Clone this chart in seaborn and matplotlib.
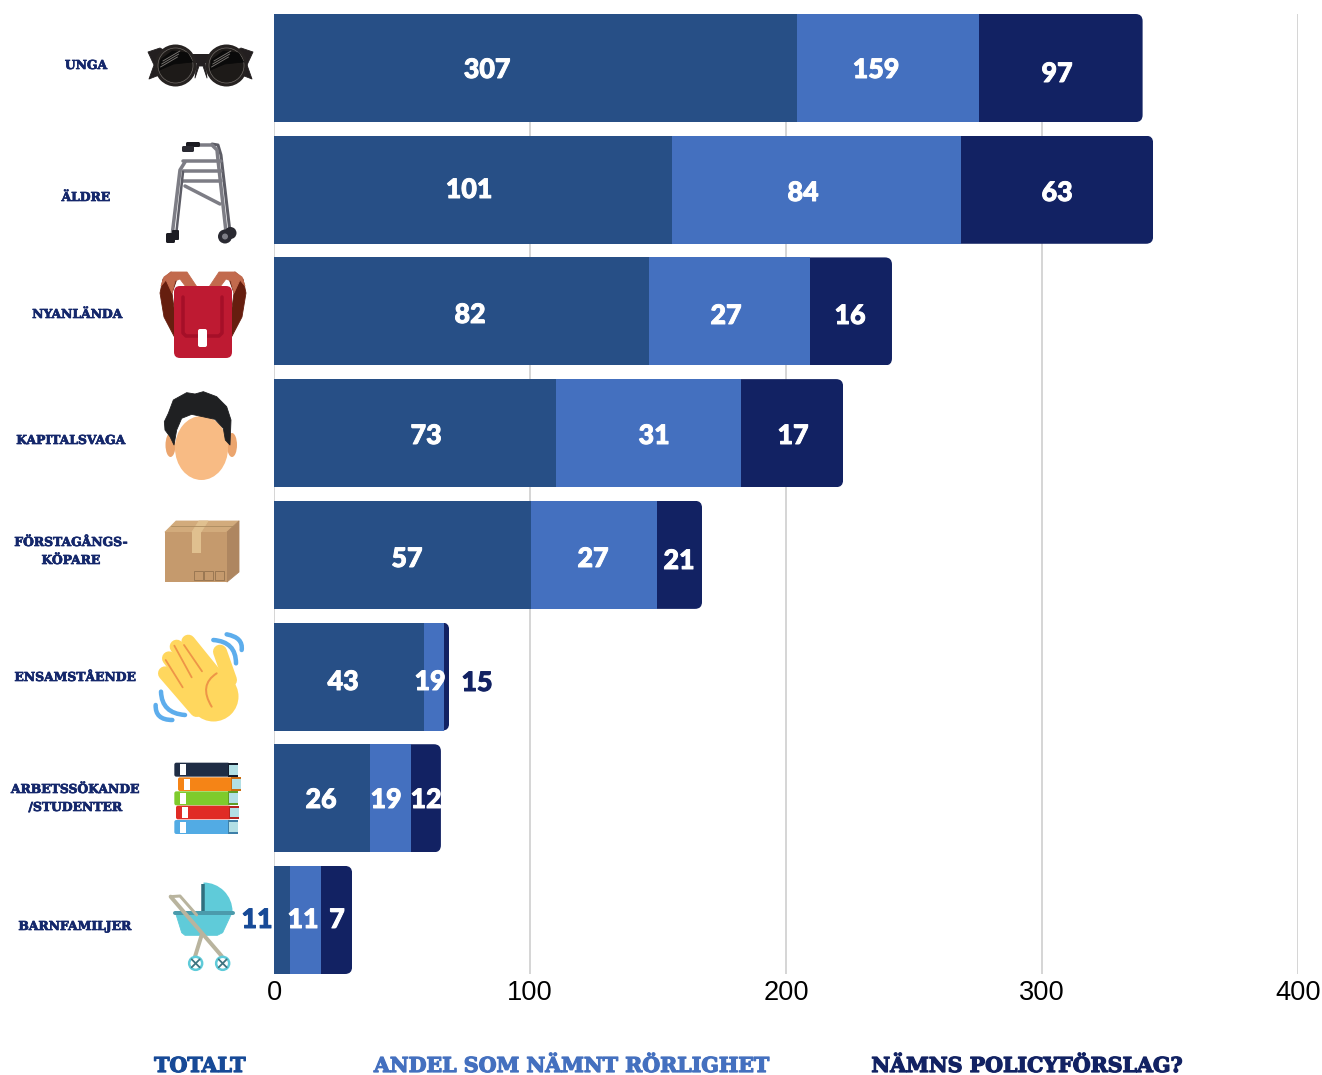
import os
import numpy as np
import pandas as pd
import seaborn as sns
import matplotlib
matplotlib.use("Agg")
import matplotlib.pyplot as plt
from matplotlib import font_manager as fm, patheffects as pe
from matplotlib.patches import FancyBboxPatch, Circle, Ellipse, Polygon, Rectangle, PathPatch, Wedge
from matplotlib.path import Path
from matplotlib.transforms import IdentityTransform

# ---- data -------------------------------------------------------------
groups = ["UNGA", "ÄLDRE", "NYANLÄNDA", "KAPITALSVAGA", "FÖRSTAGÅNGSKÖPARE",
          "ENSAMSTÅENDE", "ARBETSSÖKANDE/STUDENTER", "BARNFAMILJER"]

# Segment lengths on the value axis. These are a separate measure from the
# counts below: the printed counts do not scale with the axis.
length_total = [204.3, 155.5, 146.5, 110.2, 100.4, 58.6, 37.5, 6.3]
length_mobility = [71.1, 112.9, 62.9, 72.3, 49.2, 7.8, 16.0, 12.1]
length_policy = [63.9, 75.0, 32.0, 39.8, 17.6, 2.0, 11.7, 12.1]

# counts printed on the segments
count_total = [307, 101, 82, 73, 57, 43, 26, 11]
count_mobility = [159, 84, 27, 31, 27, 19, 19, 11]
count_policy = [97, 63, 16, 17, 21, 15, 12, 7]

x_ticks = [0, 100, 200, 300, 400]
legend_labels = ["TOTALT", "ANDEL SOM NÄMNT RÖRLIGHET", "NÄMNS POLICYFÖRSLAG?"]

# ---- styling and layout ------------------------------------------------
C_TOTAL, C_MOB, C_POL = "#274f86", "#4470bf", "#122263"
C_TEXT = "#14276b"
C_TOTAL_TEXT = "#174a97"
SLAB_FILE = os.path.join(matplotlib.get_data_path(), "fonts", "ttf", "DejaVuSerif-Bold.ttf")
NUM = ["Lato"]

row_text = [(["UNGA"], 86, [65.5]), (["ÄLDRE"], 86, [197.5]), (["NYANLÄNDA"], 77.5, [314.5]),
            (["KAPITALSVAGA"], 71, [440.5]), (["FÖRSTAGÅNGS-", "KÖPARE"], 71, [542.5, 560.5]),
            (["ENSAMSTÅENDE"], 75.5, [677.5]), (["ARBETSSÖKANDE", "/STUDENTER"], 75.5, [789.5, 807.5]),
            (["BARNFAMILJER"], 75, [926.5])]
num_xy = [[(487, 68), (876, 68), (1057, 72)], [(469, 188), (803, 191), (1057, 191)],
          [(470, 313), (726, 314), (850, 314)], [(426, 434), (654, 434), (793, 434)],
          [(407, 557), (593, 557), (679, 559)], [(343, 680), (430, 680), (477, 681)],
          [(321, 798), (386, 798), (426, 798)], [(257, 918), (303, 918), (337, 918)]]

sns.set_theme(style="white")
W, H = 1322, 1075
fig = plt.figure(figsize=(W / 100, H / 100), dpi=100, facecolor="white")
ax = fig.add_axes([274 / W, 101 / H, 1024 / W, 960 / H])
PX = 0.72  # points per pixel at this dpi

# ---- stacked bars, drawn longest first so shorter layers sit on top ----
frame = pd.DataFrame({"group": groups, "a": length_total, "b": length_mobility, "c": length_policy})
frame["ab"] = frame["a"] + frame["b"]
frame["abc"] = frame["ab"] + frame["c"]
for col, colour in (("abc", C_POL), ("ab", C_MOB), ("a", C_TOTAL)):
    sns.barplot(data=frame, y="group", x=col, color=colour, width=0.888, saturation=1,
                orient="h", ax=ax, zorder=3, linewidth=0)

ax.set_xlim(0, 400)
ax.set_ylim(7.444, -0.444)
ax.set_xticks(x_ticks)
ax.set_xticklabels([str(t) for t in x_ticks], fontsize=19.6, family="Liberation Sans", color="black")
ax.tick_params(axis="x", length=0, pad=4)
ax.set_yticks([])
ax.set_xlabel("")
ax.set_ylabel("")
ax.grid(axis="x", color="#c9c9c9", linewidth=1.5 * PX)
ax.set_axisbelow(True)
sns.despine(ax=ax, left=True, bottom=True)

# round the right-hand end of every complete bar
fig.canvas.draw()
for rect in ax.containers[0]:
    bb = rect.get_window_extent()
    clip = FancyBboxPatch((bb.x0 - 8, bb.y0), bb.width + 8, bb.height,
                          boxstyle="round,pad=0,rounding_size=7", transform=IdentityTransform())
    rect.set_clip_path(clip)

# ---- overlay in pixel coordinates for labels and pictograms ------------
ov = fig.add_axes([0, 0, 1, 1], facecolor="none")
ov.set_xlim(0, W)
ov.set_ylim(H, 0)
ov.axis("off")


def poly(pts, fc, z=5):
    ov.add_patch(Polygon(pts, closed=True, fc=fc, ec=fc, lw=0.6, joinstyle="round", zorder=z))


def stroke(pts, colour, lw, z=5, cap="round"):
    xs, ys = zip(*pts)
    ov.plot(xs, ys, color=colour, lw=lw * PX, solid_capstyle=cap, solid_joinstyle="round", zorder=z)


def curve(p0, p1, p2, colour, lw, z=5):
    path = Path([p0, p1, p2], [Path.MOVETO, Path.CURVE3, Path.CURVE3])
    ov.add_patch(PathPatch(path, fc="none", ec=colour, lw=lw * PX, capstyle="round", zorder=z))


def rbox(x0, y0, x1, y1, r, fc, z=5):
    ov.add_patch(FancyBboxPatch((x0, y0), x1 - x0, y1 - y0, boxstyle=f"round,pad=0,rounding_size={r}",
                                fc=fc, ec="none", zorder=z))


def zoomed(pts, dy):
    return [(x / 3, y / 3 + dy) for x, y in pts]


# sunglasses
poly([(148, 52), (160, 48), (172, 55), (172, 75), (162, 74), (149, 79), (154, 65)], "#231f20")
poly([(253, 52), (241, 48), (229, 55), (229, 75), (239, 74), (252, 79), (247, 65)], "#231f20")
rbox(188, 54, 214, 63, 2, "#231f20")
poly([(197, 63), (205, 63), (207, 78), (203, 66), (199, 66), (195, 78)], "#231f20")
for cx in (175.5, 226.5):
    ov.add_patch(Circle((cx, 65.5), 21, fc="#262221", ec="none", zorder=5))
    ov.add_patch(Circle((cx, 65.5), 17.5, fc="#1d1a18", ec="#6f6a66", lw=0.5, zorder=6))
    poly([(cx - 15, 60), (cx - 3, 51), (cx + 12, 53), (cx + 17, 62), (cx - 2, 64), (cx - 16, 70)], "#0a0a0a", 7)
    for k in (0, 3, 6):
        stroke([(cx - 15 + k * 0.4, 67 - k), (cx + 2 + k * 0.4, 57 - k)], "#7b7773", 0.9, 8)

# walking frame
GREY, GREY_D = "#7d7d85", "#5d5d66"
stroke([(212, 144), (218, 145), (221, 155), (230, 232)], GREY_D, 3)
stroke([(190, 145), (212, 145), (217, 150), (218, 160), (226, 232)], GREY, 3.5)
for y in (161, 171, 181):
    stroke([(183, y), (221, y)], GREY, 3.5)
stroke([(185, 162), (180, 170), (172, 236)], GREY, 3.5)
stroke([(183, 172), (176, 236)], GREY_D, 2.5)
stroke([(185, 186), (220, 204)], GREY, 3.5)
rbox(186, 142, 200, 147, 1.5, "#1b1b22", 6)
rbox(182, 146, 194, 152, 1.5, "#2a2a32", 6)
rbox(166, 233, 175, 243, 1.5, "#1b1b22", 6)
rbox(172, 230, 179, 240, 1, "#1b1b22", 6)
ov.add_patch(Circle((230.5, 233), 6, fc="#2a2a32", ec="none", zorder=5))
ov.add_patch(Circle((225, 236.5), 7, fc="#2a2a32", ec="none", zorder=6))
ov.add_patch(Circle((225, 236.5), 3, fc="#7d7d85", ec="none", zorder=7))

# backpack
for flip in (False, True):
    f = (lambda pts: [(406 - x, y) for x, y in pts]) if flip else (lambda pts: pts)
    poly(f([(175, 338), (164, 317), (160, 293), (163, 279), (171, 272), (178, 276), (172, 293), (175, 315)]), "#661e0f", 4)
    poly(f([(161, 286), (164, 277), (171, 272), (187, 272), (197, 287), (186, 287), (180, 279), (175, 281), (172, 293), (166, 280)]), "#c26a4d", 4)
rbox(174, 286, 232, 358, 6, "#be1a32")
stroke([(183, 297), (183, 333), (186, 336), (219, 336), (222, 333), (222, 297)], "#a50f28", 3.5, 6)
rbox(198, 329, 207, 347, 2, "white", 7)

# face
ov.add_patch(Ellipse((170.5, 445), 10, 24, fc="#eba56e", ec="none", zorder=4))
ov.add_patch(Ellipse((232, 445), 10, 24, fc="#eba56e", ec="none", zorder=4))
ov.add_patch(Ellipse((201.5, 448), 53, 64, fc="#f8bb84", ec="none", zorder=5))
poly(zoomed([(493, 515), (505, 490), (520, 450), (560, 428), (585, 432), (610, 425), (650, 440), (680, 470),
             (693, 510), (690, 585), (676, 570), (670, 535), (645, 508), (575, 493), (545, 505), (530, 540),
             (522, 585), (510, 560), (495, 540)], 250), "#1f2022", 6)

# cardboard box
poly([(165, 532), (176, 521), (239, 521), (227, 532)], "#d2ab7c")
poly([(227, 532), (239, 521), (239, 572), (227, 582)], "#ae8660")
rbox(165, 532, 227, 582, 0.1, "#c59a6d")
rbox(192, 532, 201, 553, 0.1, "#e0c08f", 6)
poly([(192, 532), (199, 521), (208, 521), (201, 532)], "#e0c08f", 6)
stroke([(171, 526), (233, 526)], "#a98a5e", 0.8, 6)
for x0 in (193.5, 204, 214.5):
    ov.add_patch(Rectangle((x0, 571), 9, 9, fc="none", ec="#8a6a48", lw=0.5, zorder=6))

# waving hand
HAND = "#ffd75e"
for a, b in (((495, 520), (590, 630)), ((507, 475), (600, 600)), ((530, 440), (620, 570)),
             ((565, 425), (650, 530)), ((660, 455), (690, 540))):
    stroke(zoomed([a, b], 500), HAND, 14)
ov.add_patch(Circle((213.5, 696.5), 25, fc=HAND, ec="none", zorder=5))
poly(zoomed([(590, 480), (650, 520), (690, 540), (700, 600), (600, 630), (540, 560)], 500), HAND, 5)
for a, b in (((497, 480), (548, 562)), ((523, 437), (575, 532)), ((552, 435), (606, 514))):
    stroke(zoomed([a, b], 500), "#ee9547", 1.8, 6)
curve(*zoomed([(650, 520), (595, 555), (635, 620)], 500), "#ee9547", 2, 6)
for a, m, b in (((640, 420), (708, 425), (708, 490)), ((680, 403), (730, 412), (725, 450)),
                ((483, 575), (485, 640), (555, 645)), ((467, 615), (465, 660), (517, 660))):
    curve(*zoomed([a, m, b], 500), "#5dadec", 4.5, 6)

# stack of books
for (y0, y1, x0, x1, body, dark) in ((68, 110, 523, 713, "#1f2d45", "#141d2e"), (112, 153, 534, 722, "#f58416", "#cc6c10"),
                                     (154, 196, 523, 713, "#7ecb2c", "#5f9d24"), (197, 238, 528, 717, "#e02b25", "#b72420"),
                                     (240, 282, 523, 713, "#52abe4", "#3d7fa8")):
    a, b = x0 / 3, x1 / 3
    t, u = y0 / 3 + 740, y1 / 3 + 740
    rbox(a, t, b - 8, u, 2, body)
    ov.add_patch(Rectangle((b - 10, t), 10, u - t, fc=dark, ec="none", zorder=5))
    ov.add_patch(Rectangle((b - 9, t + 2), 9, u - t - 4, fc="#b2dfe5", ec="none", zorder=6))
    ov.add_patch(Rectangle((a + 5.5, t + 1.5), 6, u - t - 3, fc="white", ec="none", zorder=6))

# pram
ov.add_patch(Wedge((203.5, 911.5), 29, 270, 360, fc="#5fcbd9", ec="none", zorder=5))
stroke([(202.5, 884), (202.5, 911)], "#2f6f7e", 3.5, 6, cap="butt")
poly(zoomed([(527, 520), (695, 520), (668, 578), (652, 586), (555, 586), (545, 578)], 740), "#5fcbd9")
stroke(zoomed([(524, 518), (698, 518)], 740), "#4b9bac", 4, 6)
stroke(zoomed([(605, 585), (585, 650)], 740), "#b9b49e", 4, 6)
stroke(zoomed([(512, 470), (665, 648)], 740), "#b9b49e", 4, 7)
stroke(zoomed([(512, 470), (540, 468), (590, 525)], 740), "#b9b49e", 3, 7)
for cx in (587 / 3, 668 / 3):
    cy = 670 / 3 + 740
    ov.add_patch(Circle((cx, cy), 6.5, fc="white", ec="#5fcbd9", lw=2.5 * PX, zorder=7))
    stroke([(cx - 4, cy - 4), (cx + 4, cy + 4)], "#3d7480", 1.8, 8)
    stroke([(cx - 4, cy + 4), (cx + 4, cy - 4)], "#3d7480", 1.8, 8)

# ---- text --------------------------------------------------------------
row_font = fm.FontProperties(fname=SLAB_FILE, size=8.9)
legend_font = fm.FontProperties(fname=SLAB_FILE, size=14.8)

for lines, x, ys in row_text:
    for line, y in zip(lines, ys):
        ov.text(x, y, line, ha="center", va="center", fontproperties=row_font, color=C_TEXT, zorder=9,
                path_effects=[pe.withStroke(linewidth=0.5, foreground=C_TEXT)])

for i in range(len(groups)):
    values = (count_total[i], count_mobility[i], count_policy[i])
    for j, (value, (x, y)) in enumerate(zip(values, num_xy[i])):
        colour = "white"
        if value == 11 and j == 0:
            colour = C_TOTAL_TEXT
        if value == 15:
            colour = C_POL
        ov.text(x, y + 2, str(value), ha="center", va="center", family=NUM, weight="black", fontsize=19.3,
                color=colour, zorder=9,
                path_effects=[pe.withStroke(linewidth=0.7, foreground=colour)])

for text, x, colour in zip(legend_labels, (200, 571.5, 1027), (C_TOTAL_TEXT, C_MOB, C_POL)):
    ov.text(x, 1066, text, ha="center", va="center", fontproperties=legend_font, color=colour, zorder=9,
            path_effects=[pe.withStroke(linewidth=0.9, foreground=colour)])

fig.savefig("out.png", dpi=100, facecolor="white")
